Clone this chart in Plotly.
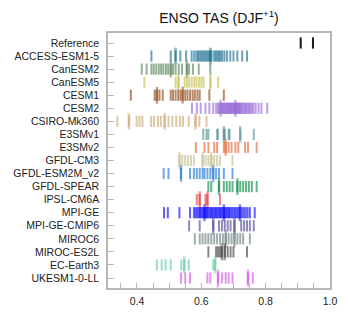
import plotly.graph_objects as go

# ---- data ----
models = ["Reference", "ACCESS-ESM1-5", "CanESM2", "CanESM5", "CESM1", "CESM2",
          "CSIRO-Mk360", "E3SMv1", "E3SMv2", "GFDL-CM3", "GFDL-ESM2M_v2",
          "GFDL-SPEAR", "IPSL-CM6A", "MPI-GE", "MPI-GE-CMIP6", "MIROC6",
          "MIROC-ES2L", "EC-Earth3", "UKESM1-0-LL"]

reference = [0.909, 0.947]
access_esm1_5 = [0.445, 0.505, 0.52, 0.535, 0.553, 0.57, 0.578, 0.585, 0.59, 0.595, 0.60,
                 0.605, 0.61, 0.615, 0.62, 0.625, 0.628, 0.632, 0.64, 0.645, 0.65, 0.655,
                 0.66, 0.665, 0.672, 0.68, 0.69, 0.70, 0.712, 0.727, 0.742]
canesm2 = [0.415, 0.43, 0.445, 0.452, 0.46, 0.468, 0.475, 0.482, 0.49, 0.497, 0.505, 0.512,
           0.52, 0.53, 0.54, 0.555, 0.562, 0.574, 0.592, 0.628]
canesm5 = [0.423, 0.52, 0.53, 0.548, 0.555, 0.562, 0.57, 0.578, 0.585, 0.593, 0.60, 0.607,
           0.628, 0.652]
cesm1 = [0.381, 0.455, 0.462, 0.47, 0.48, 0.505, 0.512, 0.52, 0.528, 0.535, 0.542, 0.55,
         0.557, 0.565, 0.573, 0.58, 0.588, 0.595, 0.625, 0.67]
cesm2 = [0.571, 0.586, 0.598, 0.613, 0.625, 0.637, 0.646, 0.652, 0.656, 0.66, 0.664, 0.667,
         0.67, 0.673, 0.676, 0.679, 0.682, 0.685, 0.688, 0.69, 0.693, 0.696, 0.699, 0.702,
         0.705, 0.708, 0.711, 0.714, 0.717, 0.72, 0.723, 0.727, 0.731, 0.735, 0.739, 0.743,
         0.748, 0.752, 0.757, 0.762, 0.769, 0.778, 0.787, 0.805]
csiro_mk360 = [0.339, 0.375, 0.399, 0.408, 0.417, 0.444, 0.453, 0.465, 0.474, 0.486, 0.498,
               0.51, 0.522, 0.534, 0.543, 0.561, 0.582, 0.594, 0.616]
e3smv1 = [0.606, 0.616, 0.622, 0.649, 0.652, 0.67, 0.673, 0.685, 0.688, 0.721, 0.763]
e3smv2 = [0.583, 0.61, 0.622, 0.64, 0.649, 0.67, 0.676, 0.685, 0.694, 0.706, 0.715, 0.736,
          0.745, 0.772]
gfdl_cm3 = [0.532, 0.541, 0.55, 0.559, 0.568, 0.577, 0.604, 0.613, 0.622, 0.631, 0.64,
            0.649, 0.658, 0.697]
gfdl_esm2m_v2 = [0.483, 0.498, 0.537, 0.565, 0.577, 0.586, 0.595, 0.604, 0.61, 0.619, 0.628,
                 0.637, 0.646, 0.655, 0.67, 0.697]
gfdl_spear = [0.622, 0.631, 0.655, 0.67, 0.679, 0.688, 0.697, 0.712, 0.721, 0.73, 0.739,
              0.748, 0.757, 0.772]
ipsl_cm6a = [0.586, 0.595, 0.613, 0.619, 0.658]
mpi_ge = [0.484, 0.496, 0.532, 0.565, 0.577, 0.582, 0.587, 0.592, 0.596, 0.60, 0.604, 0.608,
          0.611, 0.615, 0.618, 0.622, 0.626, 0.63, 0.634, 0.638, 0.642, 0.646, 0.65, 0.654,
          0.658, 0.662, 0.666, 0.67, 0.674, 0.678, 0.682, 0.686, 0.69, 0.695, 0.70, 0.705,
          0.71, 0.715, 0.72, 0.726, 0.732, 0.738, 0.744, 0.751, 0.766]
mpi_ge_cmip6 = [0.562, 0.595, 0.637, 0.655, 0.664, 0.673, 0.682, 0.691, 0.703, 0.724, 0.733,
                0.742, 0.751, 0.763]
miroc6 = [0.58, 0.595, 0.604, 0.613, 0.622, 0.631, 0.64, 0.649, 0.658, 0.667, 0.676, 0.685,
          0.694, 0.703, 0.712, 0.721, 0.73, 0.751]
miroc_es2l = [0.622, 0.646, 0.652, 0.658, 0.664, 0.673, 0.682, 0.691, 0.70, 0.742]
ec_earth3 = [0.462, 0.477, 0.489, 0.505, 0.538, 0.547, 0.561, 0.637, 0.643]
ukesm1_0_ll = [0.537, 0.55, 0.565, 0.619, 0.628, 0.652, 0.664, 0.676, 0.685, 0.697, 0.745,
               0.76]

# members drawn taller (overlap highlights)
tall_marks = [[], [0.52, 0.628], [0.505, 0.555], [0.528, 0.628], [0.462, 0.542],
              [0.66, 0.706], [0.375, 0.486, 0.582], [0.67, 0.721], [0.676],
              [0.532, 0.604, 0.631], [0.537, 0.637], [0.655, 0.712], [0.595, 0.619],
              [0.61, 0.67, 0.72], [0.637, 0.703], [0.676, 0.703], [0.673, 0.664],
              [0.547, 0.643], [0.652, 0.745]]

colors = ["rgb(0,0,0)", "rgb(20,105,140)", "rgb(85,130,85)", "rgb(200,190,70)",
          "rgb(140,65,15)", "rgb(145,100,215)", "rgb(205,165,110)", "rgb(80,145,150)",
          "rgb(225,100,50)", "rgb(195,188,140)", "rgb(25,115,210)", "rgb(0,135,65)",
          "rgb(220,55,55)", "rgb(0,0,255)", "rgb(75,65,145)", "rgb(105,125,125)",
          "rgb(60,60,60)", "rgb(95,200,160)", "rgb(210,80,230)"]

series = [reference, access_esm1_5, canesm2, canesm5, cesm1, cesm2, csiro_mk360, e3smv1,
          e3smv2, gfdl_cm3, gfdl_esm2m_v2, gfdl_spear, ipsl_cm6a, mpi_ge, mpi_ge_cmip6,
          miroc6, miroc_es2l, ec_earth3, ukesm1_0_ll]

fig = go.Figure()
for name, vals, tall, col in zip(models, series, tall_marks, colors):
    op = 0.9 if name == "Reference" else 0.62
    fig.add_trace(go.Scatter(
        x=vals, y=[name] * len(vals), mode="markers", showlegend=False,
        marker=dict(symbol="line-ns", size=8, opacity=op,
                    line=dict(width=2, color=col))))
    if tall:
        fig.add_trace(go.Scatter(
            x=tall, y=[name] * len(tall), mode="markers", showlegend=False,
            marker=dict(symbol="line-ns", size=12, opacity=0.5,
                        line=dict(width=2.5, color=col))))

axis_col = "#b8b8b8"
fig.update_layout(
    width=348, height=325,
    margin=dict(l=108, r=11, t=33, b=37),
    paper_bgcolor="white", plot_bgcolor="white",
    font=dict(family="Liberation Sans, Arial, sans-serif", size=10.5, color="#222"),
    title=dict(text="ENSO TAS (DJF<sup>+1</sup>)", x=0.5, xref="paper", xanchor="center",
               y=0.945, yref="container", yanchor="middle",
               font=dict(size=14, color="#111")),
)
fig.update_xaxes(range=[0.31, 1.0], showgrid=False, zeroline=False,
                 tickmode="array", tickvals=[0.4, 0.6, 0.8, 1.0],
                 ticktext=["0.4", "0.6", "0.8", "1.0"],
                 ticks="inside", ticklen=5, tickcolor=axis_col,
                 minor=dict(tickmode="linear", tick0=0.3, dtick=0.05, ticks="inside",
                            ticklen=5, tickcolor=axis_col),
                 showline=True, linecolor=axis_col, linewidth=1.5, mirror=True,
                 ticklabelstandoff=3, tickfont=dict(size=10.5))
fig.update_yaxes(type="category", categoryorder="array", categoryarray=models,
                 range=[18.766, -0.766], showgrid=False, zeroline=False,
                 ticks="inside", ticklen=6, tickcolor=axis_col,
                 showline=True, linecolor=axis_col, linewidth=1.5, mirror=True,
                 ticklabelstandoff=5, tickfont=dict(size=10.5))

fig.write_html("out.html")
